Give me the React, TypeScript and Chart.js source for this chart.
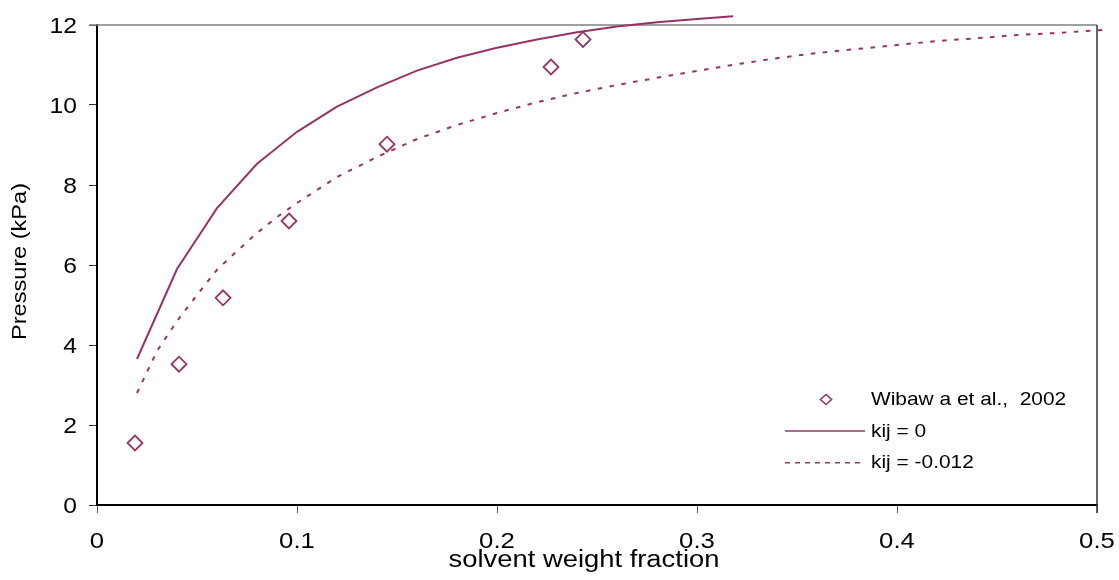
import React, { useEffect, useRef } from 'react';
import { Chart, registerables } from 'chart.js';

Chart.register(...registerables);

// Experimental data (Wibawa et al., 2002)
const expX = [0.019, 0.041, 0.063, 0.096, 0.145, 0.227, 0.243];
const expP = [1.55, 3.52, 5.18, 7.1, 9.02, 10.95, 11.64];

// Model, kij = 0
const kij0X = [0.02, 0.04, 0.06, 0.08, 0.10, 0.12, 0.14, 0.16, 0.18, 0.20, 0.22, 0.24, 0.26, 0.28, 0.30, 0.318];
const kij0P = [3.65, 5.9, 7.42, 8.53, 9.33, 9.96, 10.44, 10.86, 11.18, 11.43, 11.64, 11.82, 11.96, 12.07, 12.15, 12.22];

// Model, kij = -0.012
const kijNX = [0.02, 0.03, 0.04, 0.05, 0.06, 0.07, 0.08, 0.09, 0.10, 0.12, 0.14, 0.16, 0.18, 0.20, 0.22, 0.24, 0.26, 0.28, 0.30, 0.32, 0.34, 0.36, 0.38, 0.40, 0.42, 0.44, 0.46, 0.48, 0.504];
const kijNP = [2.8, 3.85, 4.6, 5.25, 5.88, 6.35, 6.8, 7.2, 7.55, 8.2, 8.7, 9.15, 9.5, 9.8, 10.07, 10.3, 10.5, 10.68, 10.85, 11.02, 11.17, 11.3, 11.4, 11.5, 11.6, 11.67, 11.75, 11.8, 11.88];

const xTickLabels = ['0', '0.1', '0.2', '0.3', '0.4', '0.5'];
const yTickLabels = ['0', '2', '4', '6', '8', '10', '12'];
const xTitle = 'solvent weight fraction';
const yTitle = 'Pressure (kPa)';
const legendLabels = ['Wibaw a et al.,  2002', 'kij = 0', 'kij = -0.012'];

const COLOR = '#993366';
const FONT = '"Liberation Sans", Arial, sans-serif';

function drawText(
  ctx: CanvasRenderingContext2D,
  text: string,
  x: number,
  y: number,
  size: number,
  align: CanvasTextAlign,
  stretch: number,
  rot = 0
) {
  ctx.save();
  ctx.translate(x, y);
  if (rot) ctx.rotate(rot);
  ctx.scale(stretch, 1);
  ctx.font = `${size}px ${FONT}`;
  ctx.fillStyle = '#000';
  ctx.textAlign = align;
  ctx.textBaseline = 'alphabetic';
  ctx.fillText(text, 0, 0);
  ctx.restore();
}

const framePlugin = {
  id: 'frame',
  beforeDatasetsDraw(chart: any) {
    const { ctx, chartArea } = chart;
    ctx.save();
    ctx.strokeStyle = '#808080';
    ctx.lineWidth = 1.5;
    ctx.beginPath();
    ctx.moveTo(chartArea.left - 8, chartArea.top);
    ctx.lineTo(chartArea.right, chartArea.top);
    ctx.stroke();
    ctx.strokeStyle = '#333';
    ctx.lineWidth = 1.5;
    ctx.beginPath();
    ctx.moveTo(chartArea.right, chartArea.top);
    ctx.lineTo(chartArea.right, chartArea.bottom + 8);
    ctx.stroke();
    ctx.restore();
  },
};

const textPlugin = {
  id: 'texts',
  afterDraw(chart: any) {
    const { ctx, chartArea } = chart;
    const xs = chart.scales.x;
    const ys = chart.scales.y;
    xs.ticks.forEach((t: any, i: number) => {
      const px = xs.getPixelForValue(t.value);
      drawText(ctx, xTickLabels[i] ?? '', px, chartArea.bottom + 43, 22, 'center', 1.17);
    });
    ys.ticks.forEach((t: any, i: number) => {
      const py = ys.getPixelForValue(t.value);
      drawText(ctx, yTickLabels[i] ?? '', chartArea.left - 20, py + 7.9, 22, 'right', 1.12);
    });
    drawText(ctx, xTitle, 584, chartArea.bottom + 62, 23, 'center', 1.19);
    drawText(ctx, yTitle, 26, 261.5, 20, 'center', 1.177, -Math.PI / 2);

    // Legend
    ctx.save();
    const lx0 = 785, lx1 = 865, tx = 871;
    // diamond marker
    ctx.strokeStyle = COLOR;
    ctx.lineWidth = 1.6;
    ctx.beginPath();
    ctx.moveTo(826 - 5.6, 399.5);
    ctx.lineTo(826, 399.5 - 5);
    ctx.lineTo(826 + 5.6, 399.5);
    ctx.lineTo(826, 399.5 + 5);
    ctx.closePath();
    ctx.stroke();
    // solid line
    ctx.lineWidth = 1.5;
    ctx.beginPath();
    ctx.moveTo(lx0, 431);
    ctx.lineTo(lx1, 431);
    ctx.stroke();
    // dashed line
    ctx.setLineDash([5, 5]);
    ctx.beginPath();
    ctx.moveTo(lx0, 462.7);
    ctx.lineTo(lx1, 462.7);
    ctx.stroke();
    ctx.restore();
    drawText(ctx, legendLabels[0], tx, 405, 19, 'left', 1.1);
    drawText(ctx, legendLabels[1], tx, 436.7, 19, 'left', 1.1);
    drawText(ctx, legendLabels[2], tx, 468.4, 19, 'left', 1.1);
  },
};

export default function App() {
  const ref = useRef<HTMLCanvasElement>(null);
  useEffect(() => {
    document.body.style.margin = '0';
    const toPts = (xs: number[], ys: number[]) => xs.map((x, i) => ({ x, y: ys[i] }));
    const chart = new Chart(ref.current as HTMLCanvasElement, {
      type: 'scatter',
      data: {
        datasets: [
          {
            label: legendLabels[0],
            data: toPts(expX, expP),
            showLine: false,
            pointStyle: 'rectRot',
            pointRadius: 7.5,
            pointBorderWidth: 1.8,
            pointBorderColor: COLOR,
            pointBackgroundColor: '#fff',
            borderColor: COLOR,
            backgroundColor: '#fff',
          },
          {
            label: legendLabels[1],
            data: toPts(kij0X, kij0P),
            showLine: true,
            pointRadius: 0,
            borderColor: COLOR,
            borderWidth: 2,
            tension: 0,
            clip: false,
          } as any,
          {
            label: legendLabels[2],
            data: toPts(kijNX, kijNP),
            showLine: true,
            pointRadius: 0,
            borderColor: COLOR,
            borderWidth: 2,
            borderDash: [4.5, 7.5],
            tension: 0,
            clip: false,
          } as any,
        ],
      },
      options: {
        animation: false,
        responsive: true,
        maintainAspectRatio: false,
        layout: { padding: { left: 0, right: 22, top: 25, bottom: 0 } },
        plugins: { legend: { display: false }, tooltip: { enabled: false } },
        events: [],
        scales: {
          x: {
            type: 'linear',
            min: 0,
            max: 0.5,
            ticks: { display: false, stepSize: 0.1 },
            grid: { drawOnChartArea: false, drawTicks: true, tickLength: 8, color: '#555', lineWidth: 1 },
            border: { display: true, color: '#000', width: 2 },
            afterFit: (s: any) => {
              s.height = 75;
            },
          },
          y: {
            type: 'linear',
            min: 0,
            max: 12,
            ticks: { display: false, stepSize: 2 },
            grid: { drawOnChartArea: false, drawTicks: true, tickLength: 8, color: '#333', lineWidth: 1 },
            border: { display: true, color: '#000', width: 2 },
            afterFit: (s: any) => {
              s.width = 97;
            },
          },
        },
      },
      plugins: [framePlugin, textPlugin],
    });
    return () => chart.destroy();
  }, []);
  return (
    <div style={{ position: 'absolute', left: 0, top: 0, width: 1119, height: 580, background: '#fff' }}>
      <canvas ref={ref} />
    </div>
  );
}
